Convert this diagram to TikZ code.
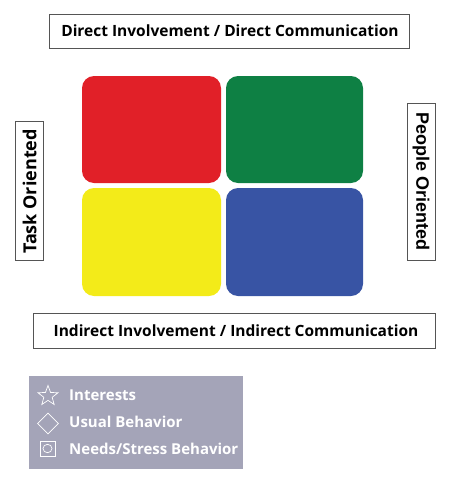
\documentclass[tikz,border=0pt]{standalone}
\usepackage{fontspec}
\setmainfont{Open Sans}
\newfontfamily\arialfont{Liberation Sans}
\usetikzlibrary{shapes.geometric}
\definecolor{qred}{HTML}{E12028}
\definecolor{qgreen}{HTML}{0E8044}
\definecolor{qyellow}{HTML}{F3EB19}
\definecolor{qblue}{HTML}{3854A4}
\definecolor{legendbg}{HTML}{A4A4B8}
\definecolor{framegray}{HTML}{555555}
\tikzset{
  labelbox/.style={draw=framegray, line width=0.9pt, fill=white},
  legtext/.style={text=white, font=\bfseries\fontsize{15}{17}\selectfont, anchor=west, inner sep=0pt},
  legsym/.style={draw=white, line width=0.7pt}
}
\begin{document}
\begin{tikzpicture}[x=1pt,y=-1pt]
\useasboundingbox (0,0) rectangle (450,493);
% top label
\draw[labelbox] (49,14) rectangle (409,48);
\node[font=\bfseries\fontsize{15.5}{18}\selectfont] (top) at (230,31) {Direct Involvement / Direct Communication};
% bottom label
\draw[labelbox] (33,313) rectangle (435,348);
\node[font=\bfseries\fontsize{15.5}{18}\selectfont] (bottom) at (236,330.5) {Indirect Involvement / Indirect Communication};
% left label
\draw[labelbox] (15,121) rectangle (43,260);
\node[rotate=90, font=\bfseries\fontsize{18}{20}\selectfont] (left) at (29.5,191.5) {Task Oriented};
% right label
\draw[labelbox] (407,103) rectangle (435,260);
\node[rotate=-90, font=\arialfont\bfseries\fontsize{18}{20}\selectfont] (right) at (421,181.5) {People Oriented};
% quadrants
\fill[qred, rounded corners=12pt] (82,76) rectangle (221,183);
\fill[qgreen, rounded corners=12pt] (226,76) rectangle (363,183);
\fill[qyellow, rounded corners=12pt] (82,188) rectangle (221,296);
\fill[qblue, rounded corners=12pt] (226,188) rectangle (363,296);
% legend
\fill[legendbg] (29,376) rectangle (243,469);
\node[legsym, star, star points=5, star point ratio=2.4, minimum size=21pt, inner sep=0pt] (s1) at (48,396) {};
\node[legsym, diamond, minimum size=21pt, inner sep=0pt] (s2) at (48,423.5) {};
\draw[legsym] (40,441) rectangle (55,456);
\draw[legsym] (47.5,448.5) ellipse (4.5pt and 4.2pt);
\node[legtext] (t1) at (69,395) {Interests};
\node[legtext] (t2) at (69,421.5) {Usual Behavior};
\node[legtext] (t3) at (69,449) {Needs/Stress Behavior};
\end{tikzpicture}
\end{document}
